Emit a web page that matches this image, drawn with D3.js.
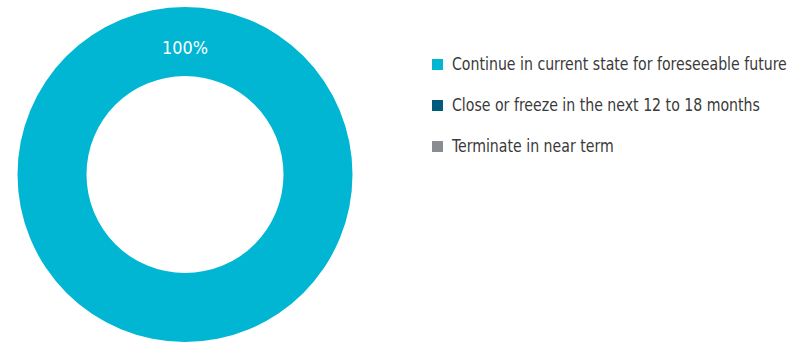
<!DOCTYPE html>
<html>
<head>
<meta charset="utf-8">
<script src="https://cdn.jsdelivr.net/npm/d3@7"></script>
<style>
  html, body { margin: 0; padding: 0; background: #fff; }
  svg { display: block; }
  text { font-family: "DejaVu Sans Condensed", "Liberation Sans Narrow", "Roboto", sans-serif; }
</style>
</head>
<body>
<svg id="chart" width="794" height="342"></svg>
<script>
// Outlook for the program: share of respondents per option
const categories = [
  "Continue in current state for foreseeable future",
  "Close or freeze in the next 12 to 18 months",
  "Terminate in near term"
];
const values = [100, 0, 0];
const colors = ["#00b6d3", "#005b7c", "#898c91"];

const svg = d3.select("#chart");
const cx = 185, cy = 174.5, outerR = 167.5, innerR = 98.5;

const pie = d3.pie().sort(null).value(d => d.value);
const arcs = pie(categories.map((c, i) => ({ name: c, value: values[i], color: colors[i] })));
const arc = d3.arc().innerRadius(innerR).outerRadius(outerR);

const g = svg.append("g").attr("transform", `translate(${cx},${cy})`);
g.selectAll("path")
  .data(arcs.filter(d => d.data.value > 0))
  .join("path")
  .attr("d", arc)
  .attr("fill", d => d.data.color);

// value label, placed in the ring near the slice start
const labelR = (innerR + outerR) / 2;
g.selectAll("text.val")
  .data(arcs.filter(d => d.data.value > 0))
  .join("text")
  .attr("class", "val")
  .attr("x", 0)
  .attr("y", -labelR + 12)
  .attr("text-anchor", "middle")
  .attr("fill", "#ffffff")
  .attr("font-size", 17)
  .attr("transform", "scale(1.05,1)")
  .text(d => d.data.value + "%");

// legend; the condensed face is narrowed a little further
const legend = svg.append("g").attr("transform", "translate(432,64)");
const rows = legend.selectAll("g")
  .data(categories)
  .join("g")
  .attr("transform", (d, i) => `translate(0,${i * 41})`);
rows.append("rect")
  .attr("x", 0).attr("y", -5)
  .attr("width", 11).attr("height", 11)
  .attr("fill", (d, i) => colors[i]);
const labels = rows.append("text")
  .attr("font-size", 17)
  .attr("fill", "#3a3a3a")
  .text(d => d);
const w0 = labels.node().getComputedTextLength();
const sx = Math.min(1, 335 / w0);
labels.attr("transform", `translate(20,6) scale(${sx},1)`);
</script>
</body>
</html>
